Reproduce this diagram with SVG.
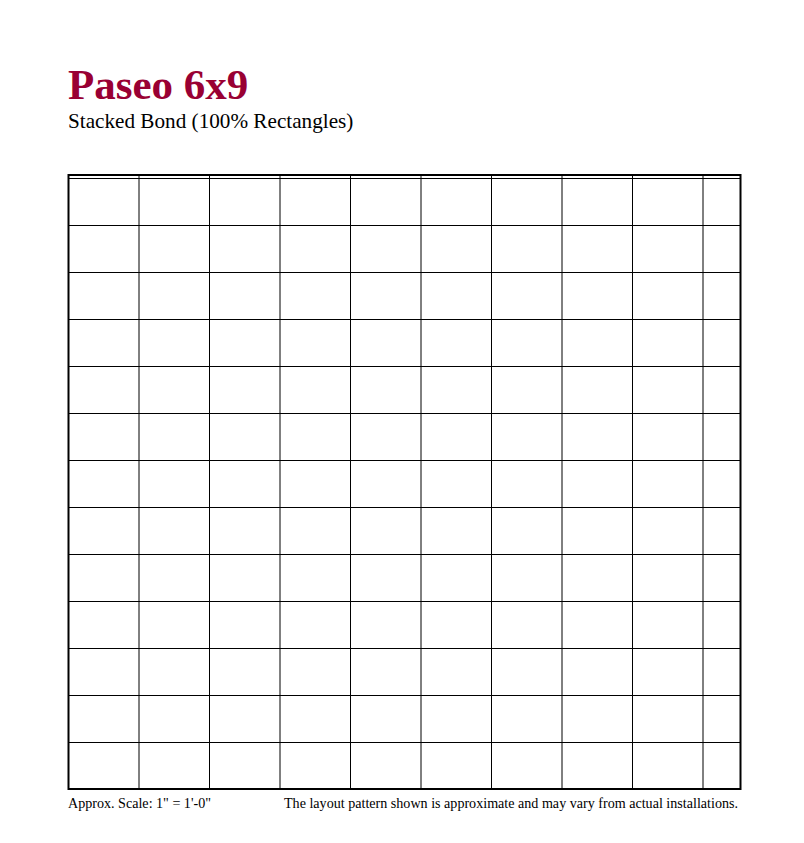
<svg xmlns="http://www.w3.org/2000/svg" width="804" height="843" viewBox="0 0 804 843">
<style>
.t{font-family:"Liberation Serif","Times New Roman",serif}
.title{font-size:43px;font-weight:bold;fill:#990033}
.sub{font-size:21.2px;fill:#000}
.foot{font-size:14.1px;fill:#000}
.g{stroke:#000;stroke-width:1;fill:none}
</style>
<rect width="804" height="843" fill="#fff"/>
<g id="header">
<text class="t title" x="68" y="99">Paseo 6x9</text>
<text class="t sub" x="68" y="127.5">Stacked Bond (100% Rectangles)</text>
</g>
<g id="grid">
<rect x="68.5" y="175" width="672" height="614" fill="none" stroke="#000" stroke-width="2"/>
<path class="g" d="M68 178.5H741M139 175V789M209.5 175V789M280 175V789M350.5 175V789M421 175V789M491.5 175V789M562 175V789M632.5 175V789M703 175V789M68 225.5H741M68 272.5H741M68 319.5H741M68 366.5H741M68 413.5H741M68 460.5H741M68 507.5H741M68 554.5H741M68 601.5H741M68 648.5H741M68 695.5H741M68 742.5H741"/>
</g>
<g id="footer">
<text class="t foot" x="68" y="808">Approx. Scale: 1" = 1'-0"</text>
<text class="t foot" x="738" y="808" text-anchor="end">The layout pattern shown is approximate and may vary from actual installations.</text>
</g>
</svg>
